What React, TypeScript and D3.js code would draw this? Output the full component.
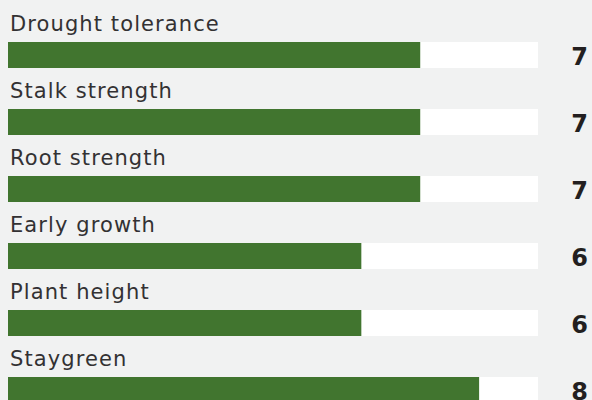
import * as d3 from "d3";
import { useEffect, useRef } from "react";

const traits = ["Drought tolerance", "Stalk strength", "Root strength", "Early growth", "Plant height", "Staygreen"];
const scores = [7, 7, 7, 6, 6, 8];
const maxScore = 9;

function App() {
    const svgRef = useRef(null);
    const width = 592;
    const height = 400;

    useEffect(() => {
        const svg = d3.select(svgRef.current);
        svg.selectAll("*").remove();

        svg.append("rect")
            .attr("width", width)
            .attr("height", height)
            .attr("fill", "#f1f2f2");

        // rows on a 67px step with 26px bars: p = 41/67, range = 67 * (n - p)
        const step = 67;
        const barH = 26;
        const pad = (step - barH) / step;
        const x = d3.scaleLinear([0, maxScore], [8, 538]);
        const y = d3.scaleBand(traits, [42, 42 + step * (traits.length - pad)])
            .paddingInner(pad)
            .paddingOuter(0);

        const rows = svg.selectAll("g.row")
            .data(traits)
            .enter().append("g")
            .attr("class", "row")
            .attr("transform", (d) => `translate(0,${y(d)})`);

        rows.append("rect")
            .attr("x", x(0))
            .attr("y", 0)
            .attr("width", x(maxScore) - x(0))
            .attr("height", y.bandwidth())
            .attr("fill", "#ffffff");

        rows.append("rect")
            .attr("x", x(0))
            .attr("y", 0)
            .attr("width", (d, i) => x(scores[i]) - x(0))
            .attr("height", y.bandwidth())
            .attr("fill", "#41752f");

        rows.append("text")
            .attr("x", 10)
            .attr("y", -11)
            .style("font-family", "'DejaVu Sans', sans-serif")
            .style("font-size", "21px")
            .style("letter-spacing", "1.1px")
            .style("fill", "#333133")
            .text((d) => d);

        rows.append("text")
            .attr("x", 588)
            .attr("y", y.bandwidth() - 3)
            .attr("text-anchor", "end")
            .style("font-family", "'DejaVu Sans', sans-serif")
            .style("font-weight", "bold")
            .style("font-size", "24px")
            .style("fill", "#231f20")
            .text((d, i) => scores[i]);
    }, []);

    return (
        <svg
            ref={svgRef}
            width={width}
            height={height}
            style={{ position: "absolute", left: 0, top: 0, display: "block" }}
        />
    );
}

export default App;
